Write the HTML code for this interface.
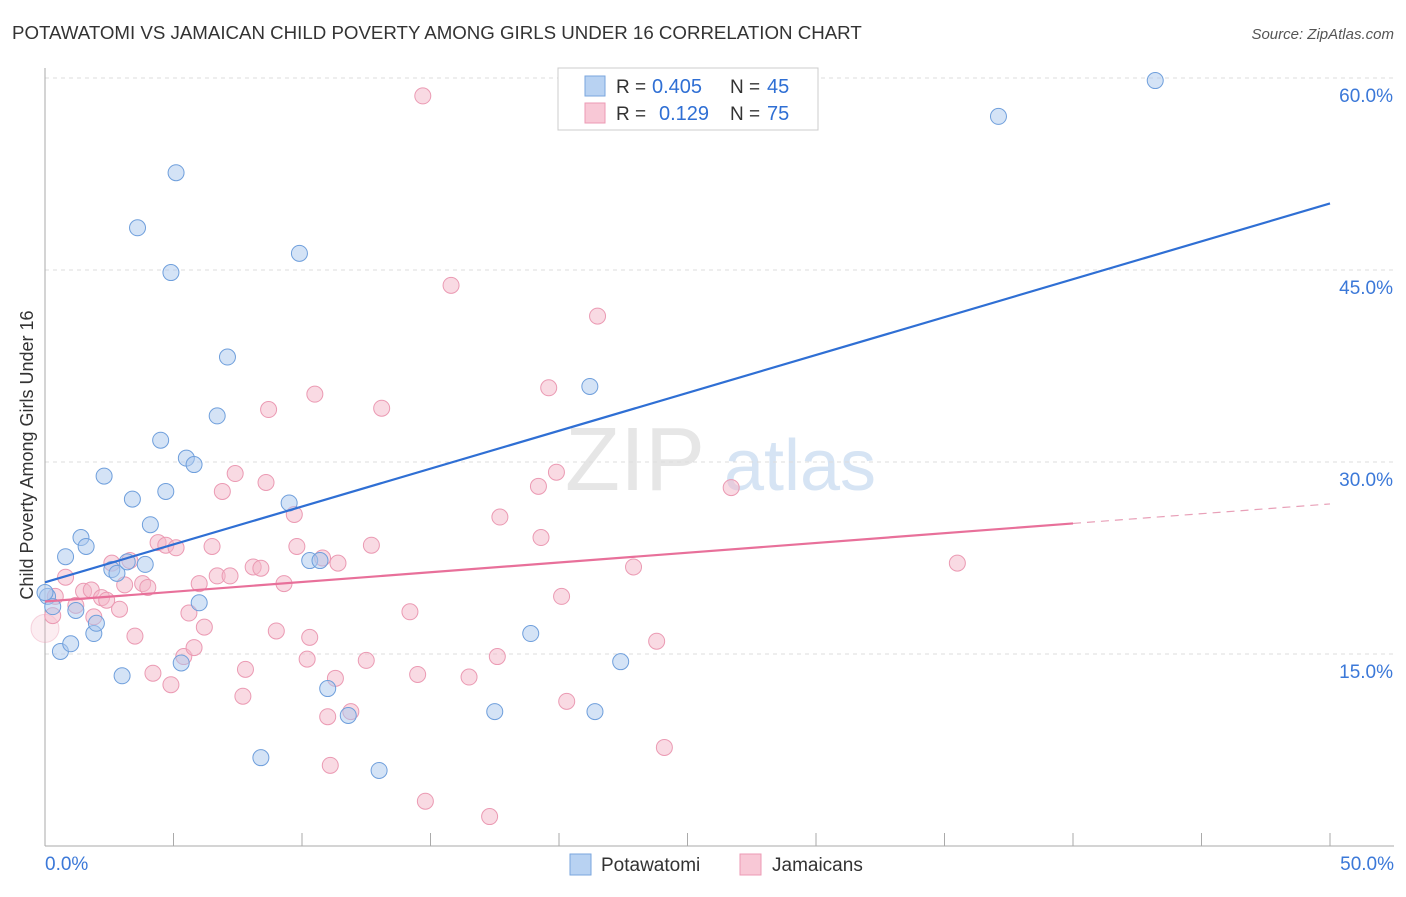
<!DOCTYPE html>
<html><head><meta charset="utf-8"><style>
body{margin:0;background:#fff;font-family:"Liberation Sans",sans-serif;}
svg text{font-family:"Liberation Sans",sans-serif;}
</style></head><body>
<svg id="c" width="1406" height="892">
<text x="12" y="39" font-size="18.7" fill="#333">POTAWATOMI VS JAMAICAN CHILD POVERTY AMONG GIRLS UNDER 16 CORRELATION CHART</text>
<text x="1394" y="39" font-size="15" fill="#555" text-anchor="end" font-style="italic">Source: ZipAtlas.com</text>
<text x="635" y="490" font-size="90" fill="#e6e6e6" font-family="Liberation Serif" text-anchor="middle">ZIP</text>
<text x="800" y="490" font-size="72" fill="#d6e4f4" text-anchor="middle">atlas</text>
<text transform="translate(33,455) rotate(-90)" font-size="18" fill="#333" text-anchor="middle">Child Poverty Among Girls Under 16</text>
<g id="grid"></g><g id="pts"></g><g id="lines"></g>
<g>
<rect x="558" y="68" width="260" height="62" fill="#fff" stroke="#ccc"/>
<rect x="585" y="76" width="20" height="20" fill="#b8d2f2" stroke="#7aa6de"/>
<rect x="585" y="103" width="20" height="20" fill="#f8c8d6" stroke="#ec9ab4"/>
<text x="616" y="93" font-size="19" fill="#333">R =</text>
<text x="652" y="93" font-size="20" fill="#2f6fd4">0.405</text>
<text x="730" y="93" font-size="19" fill="#333">N =</text>
<text x="767" y="93" font-size="20" fill="#2f6fd4">45</text>
<text x="616" y="120" font-size="19" fill="#333">R =</text>
<text x="659" y="120" font-size="20" fill="#2f6fd4">0.129</text>
<text x="730" y="120" font-size="19" fill="#333">N =</text>
<text x="767" y="120" font-size="20" fill="#2f6fd4">75</text>
</g>
<g>
<rect x="570" y="854" width="21" height="21" fill="#b8d2f2" stroke="#7aa6de"/>
<text x="601" y="871" font-size="19" fill="#333">Potawatomi</text>
<rect x="740" y="854" width="21" height="21" fill="#f8c8d6" stroke="#ec9ab4"/>
<text x="772" y="871" font-size="19" fill="#333">Jamaicans</text>
</g>
</svg>
<script>
const blueX=[0.1,0.3,0.6,0.8,1.0,1.2,1.4,1.6,1.9,2.0,2.3,2.6,2.8,3.0,3.2,3.4,3.9,4.1,4.5,4.7,4.9,5.1,5.3,5.5,5.8,6.0,3.6,6.7,7.1,8.4,9.5,9.9,10.3,10.7,11.0,11.8,13.0,17.5,18.9,21.2,21.4,22.4,37.1,43.2,0];
const blueY=[19.5,18.7,15.2,22.6,15.8,18.4,24.1,23.4,16.6,17.4,28.9,21.6,21.3,13.3,22.2,27.1,22.0,25.1,31.7,27.7,44.8,52.6,14.3,30.3,29.8,19.0,48.3,33.6,38.2,6.9,26.8,46.3,22.3,22.3,12.3,10.2,5.9,10.5,16.6,35.9,10.5,14.4,57.0,59.8,19.8];
const pinkX=[0.0,0.3,0.4,0.8,1.2,1.5,1.8,1.9,2.2,2.4,2.6,2.9,3.1,3.3,3.5,3.8,4.0,4.2,4.4,4.7,4.9,5.1,5.4,5.6,5.8,6.0,6.2,6.5,6.7,6.9,7.2,7.4,7.7,7.8,8.1,8.4,8.6,8.7,9.0,9.3,9.8,9.7,10.2,10.3,10.5,10.8,11.0,11.1,11.3,11.4,11.9,12.5,12.7,13.1,14.2,14.5,14.7,14.8,15.8,16.5,17.3,17.6,17.7,19.2,19.3,19.6,19.9,20.1,20.3,21.5,22.9,23.8,24.1,26.7,35.5];
const pinkY=[17.0,18.0,19.5,21.0,18.8,19.9,20.0,17.9,19.4,19.2,22.1,18.5,20.4,22.3,16.4,20.5,20.2,13.5,23.7,23.5,12.6,23.3,14.8,18.2,15.5,20.5,17.1,23.4,21.1,27.7,21.1,29.1,11.7,13.8,21.8,21.7,28.4,34.1,16.8,20.5,23.4,25.9,14.6,16.3,35.3,22.5,10.1,6.3,13.1,22.1,10.5,14.5,23.5,34.2,18.3,13.4,58.6,3.5,43.8,13.2,2.3,14.8,25.7,28.1,24.1,35.8,29.2,19.5,11.3,41.4,21.8,16.0,7.7,28.0,22.1];
const blueFit=[20.6,0.592];
const pinkFit=[19.1,0.1525];
const yTicks=[15,30,45,60];
const NS='http://www.w3.org/2000/svg';
const sx=v=>45+v*25.7, sy=v=>846-v*12.8;
function mk(tag,a,parent){const e=document.createElementNS(NS,tag);for(const k in a)e.setAttribute(k,a[k]);parent.appendChild(e);return e;}
const g=document.getElementById('grid');
for(const t of yTicks){
 const l=mk('line',{x1:45,x2:1394,y1:sy(t),y2:sy(t),stroke:'#ddd','stroke-dasharray':'4,4'},g);
 
 
 const tx=mk('text',{x:1393,y:sy(t)+24,'font-size':19,fill:'#3b78d8','text-anchor':'end'},g);
 tx.textContent=t.toFixed(1)+'%';
 
 
}
mk('line',{x1:45,x2:45,y1:68,y2:846,stroke:'#aaa'},g);
mk('line',{x1:45,x2:1394,y1:846,y2:846,stroke:'#aaa'},g);
for(let i=0;i<=10;i++){const x=sx(i*5);mk('line',{x1:x,x2:x,y1:833,y2:846,stroke:'#aaa'},g);}
const x0=mk('text',{x:45,y:870,'font-size':19,fill:'#3b78d8'},g);x0.textContent='0.0%';


const x1=mk('text',{x:1394,y:870,'font-size':19,fill:'#3b78d8','text-anchor':'end'},g);x1.textContent='50.0%';


const p=document.getElementById('pts');
pinkX.forEach((x,i)=>{const big=i==0;const c=mk('circle',{cx:sx(x),cy:sy(pinkY[i]),r:big?14:8,fill:'#f4b6c8','fill-opacity':big?0.25:0.5,stroke:'#eb9ab3','stroke-opacity':big?0.4:1,'stroke-width':1},p);
 
 });
blueX.forEach((x,i)=>{const c=mk('circle',{cx:sx(x),cy:sy(blueY[i]),r:8,fill:'#a9c8ee','fill-opacity':0.5,stroke:'#6f9fdc','stroke-width':1},p);
 
 });
const L=document.getElementById('lines');
const bl=mk('line',{x1:sx(0),y1:sy(blueFit[0]),x2:sx(50),y2:sy(blueFit[0]+blueFit[1]*50),stroke:'#2f6fd4','stroke-width':2.2},L);


const pl=mk('line',{x1:sx(0),y1:sy(pinkFit[0]),x2:sx(40),y2:sy(pinkFit[0]+pinkFit[1]*40),stroke:'#e8709a','stroke-width':2.2},L);


const pd=mk('line',{x1:sx(40),y1:sy(pinkFit[0]+pinkFit[1]*40),x2:sx(50),y2:sy(pinkFit[0]+pinkFit[1]*50),stroke:'#e8a0b8','stroke-width':1.2,'stroke-dasharray':'8,6'},L);


</script>
</body></html>
